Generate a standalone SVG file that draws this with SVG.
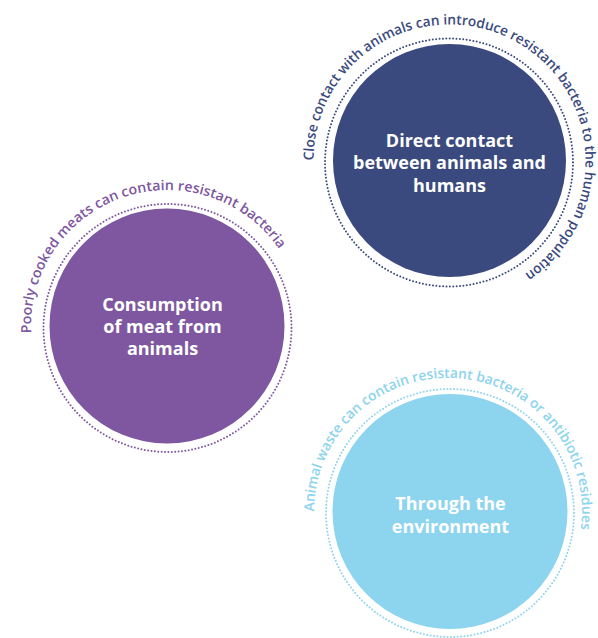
<svg xmlns="http://www.w3.org/2000/svg" xmlns:xlink="http://www.w3.org/1999/xlink" width="598" height="638" viewBox="0 0 598 638">
  <style>
    .title { font-family: "Open Sans", "Liberation Sans", sans-serif; font-weight: 700; font-size: 18px; fill: #ffffff; text-anchor: middle; }
    .arc { font-family: "Open Sans", "Liberation Sans", sans-serif; font-weight: 600; font-size: 14px; }
    .dots { fill: none; stroke-width: 2; stroke-linecap: round; stroke-dasharray: 0 3.4; }
    .dark { fill: #3b4a7e; }
    .purple { fill: #7e57a0; }
    .light { fill: #8dd4ee; }
  </style>
  <defs>
    <path id="arcDark" d="M 313.5 160.5 A 136 136 0 1 1 524.4 274.0"/>
    <path id="arcPurple" d="M 31.2 333.1 A 136 136 0 0 1 278.9 248.8"/>
    <path id="arcLight" d="M 314 511.5 A 134 134 0 1 1 580.9 529"/>
  </defs>

  <g id="node-direct-contact">
    <circle cx="449" cy="162.5" r="124" class="dots" stroke="#3b4a7e"/>
    <circle cx="449.5" cy="160.5" r="116.5" class="dark"/>
    <text class="arc dark"><textPath xlink:href="#arcDark" href="#arcDark" textLength="561" lengthAdjust="spacingAndGlyphs">Close contact with animals can introduce resistant bacteria to the human population</textPath></text>
    <text class="title" x="449.5" y="147">Direct contact</text>
    <text class="title" x="449.5" y="169">between animals and</text>
    <text class="title" x="449.5" y="192">humans</text>
  </g>

  <g id="node-consumption">
    <circle cx="167.5" cy="328" r="124" class="dots" stroke="#7e57a0"/>
    <circle cx="167" cy="326" r="117.5" class="purple"/>
    <text class="arc purple"><textPath xlink:href="#arcPurple" href="#arcPurple" textLength="352" lengthAdjust="spacingAndGlyphs">Poorly cooked meats can contain resistant bacteria</textPath></text>
    <text class="title" x="162.5" y="311">Consumption</text>
    <text class="title" x="162.5" y="333">of meat from</text>
    <text class="title" x="162.5" y="355">animals</text>
  </g>

  <g id="node-environment">
    <circle cx="450" cy="513" r="124" class="dots" stroke="#8dd4ee"/>
    <circle cx="450" cy="511.5" r="117.5" class="light"/>
    <text class="arc light"><textPath xlink:href="#arcLight" href="#arcLight" textLength="438" lengthAdjust="spacingAndGlyphs">Animal waste can contain resistant bacteria or antibiotic residues</textPath></text>
    <text class="title" x="450.5" y="510">Through the</text>
    <text class="title" x="450.5" y="533">environment</text>
  </g>

  <g id="connectors"></g>
</svg>
